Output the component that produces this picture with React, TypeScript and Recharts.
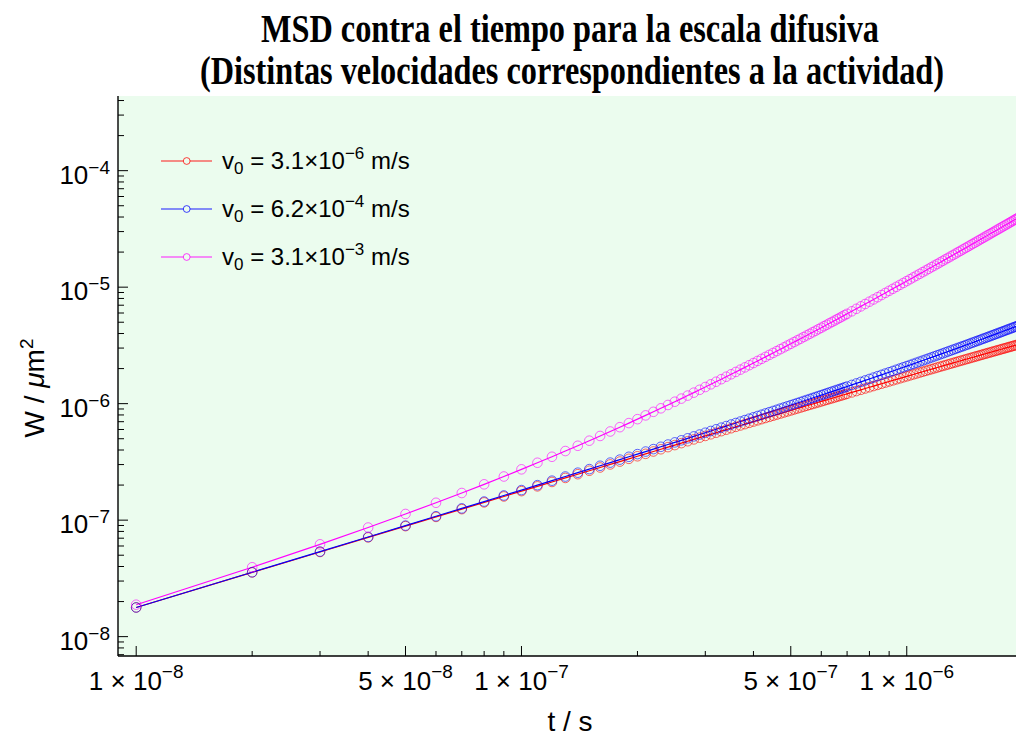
import React from "react";
import { LineChart, Line, XAxis, YAxis, CartesianGrid, Legend } from "recharts";

// time steps, in units of 1e-8 s
const tIndex = [
  1, 2, 3, 4, 5, 6, 7, 8, 9, 10, 11, 12, 13, 14, 15, 16, 17, 18, 19, 20,
  21, 22, 23, 24, 25, 26, 27, 28, 29, 30, 31, 32, 33, 34, 35, 36, 37, 38, 39, 40,
  41, 42, 43, 44, 45, 46, 47, 48, 49, 50, 51, 52, 53, 54, 55, 56, 57, 58, 59, 60,
  61, 62, 63, 64, 65, 66, 67, 68, 69, 70,
  72, 74, 76, 78, 80, 82, 84, 86, 88, 90, 92, 94, 96, 98, 100, 102, 104, 106, 108, 110,
  112, 114, 116, 118, 120, 122, 124, 126, 128, 130, 132, 134, 136, 138, 140, 142, 144, 146, 148, 150,
  152, 154, 156, 158, 160, 162, 164, 166, 168, 170, 172, 174, 176, 178, 180, 182, 184, 186, 188, 190,
  192, 194, 196, 198, 200,
];
const T_UNIT = 1e-8;

// MSD values, in units of 1e-8 um^2
const msdRed = [
  1.78, 3.56, 5.33, 7.11, 8.88, 10.66, 12.43, 14.2, 15.97, 17.74,
  19.5, 21.27, 23.03, 24.79, 26.55, 28.31, 30.07, 31.83, 33.59, 35.34,
  37.09, 38.85, 40.6, 42.35, 44.09, 45.84, 47.59, 49.33, 51.07, 52.82,
  54.56, 56.29, 58.03, 59.77, 61.5, 63.24, 64.97, 66.7, 68.43, 70.16,
  71.89, 73.61, 75.34, 77.06, 78.78, 80.5, 82.22, 83.94, 85.66, 87.38,
  89.09, 90.8, 92.51, 94.22, 95.93, 97.64, 99.35, 101.05, 102.76, 104.46,
  106.16, 107.86, 109.56, 111.26, 112.95, 114.65, 116.34, 118.03, 119.73, 121.42,
  124.8, 128.2, 131.5, 134.9, 138.2, 141.6, 144.9, 148.3, 151.6, 154.9,
  158.3, 161.6, 164.9, 168.2, 171.5, 174.8, 178.1, 181.4, 184.7, 187.9,
  191.2, 194.5, 197.7, 201.0, 204.2, 207.5, 210.7, 214.0, 217.2, 220.4,
  223.6, 226.9, 230.1, 233.3, 236.5, 239.7, 242.8, 246.0, 249.2, 252.4,
  255.5, 258.7, 261.9, 265.0, 268.2, 271.3, 274.4, 277.6, 280.7, 283.8,
  286.9, 290.0, 293.1, 296.2, 299.3, 302.4, 305.5, 308.6, 311.7, 314.7,
  317.8, 320.9, 323.9, 327.0, 330.0,
];
const msdBlue = [
  1.78, 3.57, 5.37, 7.17, 8.98, 10.8, 12.62, 14.44, 16.28, 18.12,
  19.97, 21.82, 23.68, 25.55, 27.42, 29.3, 31.18, 33.08, 34.98, 36.88,
  38.79, 40.71, 42.63, 44.56, 46.5, 48.44, 50.39, 52.35, 54.31, 56.28,
  58.26, 60.24, 62.22, 64.22, 66.22, 68.23, 70.24, 72.26, 74.29, 76.32,
  78.36, 80.4, 82.46, 84.52, 86.58, 88.65, 90.73, 92.81, 94.9, 97.0,
  99.1, 101.2, 103.3, 105.5, 107.6, 109.7, 111.9, 114.0, 116.2, 118.3,
  120.5, 122.7, 124.8, 127.0, 129.2, 131.4, 133.6, 135.8, 138.1, 140.3,
  144.8, 149.2, 153.8, 158.3, 162.9, 167.5, 172.1, 176.8, 181.4, 186.1,
  190.8, 195.6, 200.4, 205.2, 210.0, 214.9, 219.7, 224.6, 229.6, 234.5,
  239.5, 244.5, 249.5, 254.6, 259.7, 264.8, 269.9, 275.1, 280.3, 285.5,
  290.7, 296.0, 301.3, 306.6, 311.9, 317.3, 322.7, 328.1, 333.5, 339.0,
  344.5, 350.0, 355.6, 361.1, 366.7, 372.3, 378.0, 383.7, 389.4, 395.1,
  400.8, 406.6, 412.4, 418.2, 424.1, 430.0, 435.9, 441.8, 447.7, 453.7,
  459.7, 465.8, 471.8, 477.9, 484.0,
];
const msdMagenta = [
  1.88, 3.94, 6.2, 8.64, 11.3, 14.1, 17.1, 20.3, 23.7, 27.3,
  31.1, 35.0, 39.2, 43.5, 48.1, 52.8, 57.7, 62.8, 68.1, 73.6,
  79.3, 85.1, 91.2, 97.4, 103.9, 110.5, 117.3, 124.3, 131.5, 138.9,
  146.5, 154.2, 162.2, 170.3, 178.7, 187.2, 195.9, 204.8, 213.9, 223.2,
  232.7, 242.3, 252.2, 262.2, 272.5, 282.9, 293.5, 304.3, 315.3, 326.5,
  337.9, 349.4, 361.2, 373.1, 385.3, 397.6, 410.1, 422.8, 435.7, 448.8,
  462.1, 475.5, 489.2, 503.0, 517.1, 531.3, 545.7, 560.3, 575.1, 590.1,
  620.6, 651.9, 684.0, 716.8, 750.4, 784.7, 819.8, 855.7, 892.3, 929.7,
  967.8, 1006.7, 1046.4, 1086.8, 1128, 1169.9, 1212.6, 1256.1, 1300.3, 1345.3,
  1391.0, 1437.5, 1484.8, 1532.8, 1581.6, 1631.1, 1681.4, 1732.5, 1784.3, 1836.9,
  1890.2, 1944.3, 1999.2, 2054.8, 2111.2, 2168.3, 2226.2, 2284.9, 2344.3, 2404.5,
  2465.4, 2527.1, 2589.6, 2652.8, 2716.8, 2781.5, 2847.0, 2913.3, 2980.3, 3048.1,
  3116.6, 3185.9, 3256.0, 3326.8, 3398.4, 3470.7, 3543.8, 3617.7, 3692.3, 3767.7,
  3843.8, 3920.7, 3998.4, 4076.8, 4156.0,
];
const W_UNIT = 1e-8;

const seriesKeys = ["red", "blue", "magenta"];
const seriesColors = ["#ff0000", "#0000ff", "#ff00ff"];
const speedCoef = ["3.1", "6.2", "3.1"];
const speedExp = ["−6", "−4", "−3"];

const xTicks = [
  1e-8, 2e-8, 3e-8, 4e-8, 5e-8, 6e-8, 7e-8, 8e-8, 9e-8,
  1e-7, 2e-7, 3e-7, 4e-7, 5e-7, 6e-7, 7e-7, 8e-7, 9e-7,
  1e-6,
];
const xLabelled = [1e-8, 5e-8, 1e-7, 5e-7, 1e-6];
const yTicks = [
  7e-9, 8e-9, 9e-9,
  1e-8, 2e-8, 3e-8, 4e-8, 5e-8, 6e-8, 7e-8, 8e-8, 9e-8,
  1e-7, 2e-7, 3e-7, 4e-7, 5e-7, 6e-7, 7e-7, 8e-7, 9e-7,
  1e-6, 2e-6, 3e-6, 4e-6, 5e-6, 6e-6, 7e-6, 8e-6, 9e-6,
  1e-5, 2e-5, 3e-5, 4e-5, 5e-5, 6e-5, 7e-5, 8e-5, 9e-5,
  1e-4, 2e-4, 3e-4, 4e-4,
];

const X_DOMAIN = [8.97e-9, 1.921e-6];
const Y_DOMAIN = [6.82e-9, 4.375e-4];

const data = tIndex.map((n, i) => ({
  t: n * T_UNIT,
  red: msdRed[i] * W_UNIT,
  blue: msdBlue[i] * W_UNIT,
  magenta: msdMagenta[i] * W_UNIT,
}));

const SANS = '"Liberation Sans", Arial, Helvetica, sans-serif';
const SERIF = '"Liberation Serif", "Times New Roman", serif';

function splitPow(v: number) {
  const e = Math.floor(Math.log10(v) + 1e-9);
  const m = Math.round(v / Math.pow(10, e));
  return { m, e };
}

function isLabelled(v: number) {
  return xLabelled.some((l) => Math.abs(l - v) / l < 1e-6);
}

function XTick(props: any) {
  const { x, y, payload, side } = props;
  const v = payload.value;
  const { m, e } = splitPow(v);
  const major = isLabelled(v);
  const len = major ? 10 : 5;
  const dir = side === "top" ? 1 : -1;
  return (
    <g>
      <line x1={x} x2={x} y1={y} y2={y + dir * len} stroke="#000" strokeWidth={1} />
      {side !== "top" && major && (
        <text x={x} y={y + 34} textAnchor="middle" fontFamily={SANS} fontSize={26} fill="#000">
          {`${m} × 10`}
          <tspan dy={-12} fontSize={19}>{`−${-e}`}</tspan>
        </text>
      )}
    </g>
  );
}

function YTick(props: any) {
  const { x, y, payload } = props;
  const { m, e } = splitPow(payload.value);
  const major = m === 1;
  return (
    <g>
      <line x1={x} x2={x + (major ? 10 : 6)} y1={y} y2={y} stroke="#000" strokeWidth={1} />
      {major && (
        <text x={x - 8} y={y + 13} textAnchor="end" fontFamily={SANS} fontSize={26} fill="#000">
          10
          <tspan dy={-10} fontSize={19}>{`−${-e}`}</tspan>
        </text>
      )}
    </g>
  );
}

const makeDot = (color: string) => (p: any) => (
  <circle
    key={`${color}-${p.index}`}
    cx={p.cx}
    cy={p.cy}
    r={4.8}
    fill="none"
    stroke={color}
    strokeOpacity={0.6}
    strokeWidth={1}
  />
);

function LegendBox(props: any) {
  const items = [...(props.payload || [])].sort(
    (a: any, b: any) => seriesKeys.indexOf(a.dataKey) - seriesKeys.indexOf(b.dataKey)
  );
  return (
    <svg width={320} height={140} style={{ display: "block" }}>
      {items.map((it: any, i: number) => {
        const k = seriesKeys.indexOf(it.dataKey);
        const color = seriesColors[k];
        const cy = 21 + i * 48;
        return (
          <g key={it.dataKey}>
            <line x1={11} x2={62} y1={cy} y2={cy} stroke={color} strokeOpacity={0.6} strokeWidth={1.5} />
            <circle cx={36.7} cy={cy} r={3.4} fill="#ebfcee" stroke={color} strokeOpacity={0.75} strokeWidth={1} />
            <text x={72} y={cy + 8} fontFamily={SANS} fontSize={24} fill="#000">
              v
              <tspan dy={5} fontSize={17}>0</tspan>
              <tspan dy={-5}>{` = ${speedCoef[k]}×10`}</tspan>
              <tspan dy={-10} fontSize={17}>{speedExp[k]}</tspan>
              <tspan dy={10}>{" m/s"}</tspan>
            </text>
          </g>
        );
      })}
    </svg>
  );
}

export default function App() {
  return (
    <div style={{ position: "fixed", left: 0, top: 0, width: 1016, height: 736, overflow: "hidden", background: "#fff" }}>
      <LineChart width={1016} height={736} data={data} margin={{ top: 96, right: 0, bottom: 0, left: 0 }}>
        <CartesianGrid horizontal={false} vertical={false} fill="#ebfcee" fillOpacity={1} stroke="none" />
        <XAxis
          dataKey="t"
          type="number"
          scale="log"
          domain={X_DOMAIN}
          allowDataOverflow
          ticks={xTicks}
          interval={0}
          tickSize={0}
          tickMargin={0}
          tickLine={false}
          height={80}
          axisLine={{ stroke: "#000", strokeWidth: 1.4 }}
          tick={(p: any) => <XTick key={`xb-${p.index}`} {...p} side="bottom" />}
        />
        <XAxis
          xAxisId="top"
          orientation="top"
          dataKey="t"
          type="number"
          scale="log"
          domain={X_DOMAIN}
          allowDataOverflow
          ticks={xTicks}
          interval={0}
          tickSize={0}
          tickMargin={0}
          tickLine={false}
          height={0}
          axisLine={{ stroke: "#000", strokeWidth: 1.4 }}
          tick={(p: any) => <XTick key={`xt-${p.index}`} {...p} side="top" />}
        />
        <YAxis
          type="number"
          scale="log"
          domain={Y_DOMAIN}
          allowDataOverflow
          ticks={yTicks}
          interval={0}
          tickSize={0}
          tickMargin={0}
          tickLine={false}
          width={118}
          axisLine={{ stroke: "#000", strokeWidth: 1.4 }}
          tick={(p: any) => <YTick key={`y-${p.index}`} {...p} />}
        />
        {seriesKeys.map((k, i) => (
          <Line
            key={k}
            dataKey={k}
            name={`v0 = ${speedCoef[i]}×10^${speedExp[i]} m/s`}
            stroke={seriesColors[i]}
            strokeWidth={1.2}
            dot={makeDot(seriesColors[i])}
            activeDot={false}
            isAnimationActive={false}
          />
        ))}
        <Legend
          layout="vertical"
          align="center"
          verticalAlign="middle"
          content={LegendBox}
          wrapperStyle={{ left: 150, top: 140, width: 320, height: 140 }}
        />
        <text x={570} y={42} textAnchor="middle" fontFamily={SERIF} fontWeight="bold" fontSize={41}
          textLength={618} lengthAdjust="spacingAndGlyphs" fill="#000">
          MSD contra el tiempo para la escala difusiva
        </text>
        <text x={572} y={84} textAnchor="middle" fontFamily={SERIF} fontWeight="bold" fontSize={41}
          textLength={744} lengthAdjust="spacingAndGlyphs" fill="#000">
          (Distintas velocidades correspondientes a la actividad)
        </text>
        <text x={570} y={731} textAnchor="middle" fontFamily={SANS} fontSize={28} fill="#000">
          t / s
        </text>
        <text transform="translate(44, 388) rotate(-90)" textAnchor="middle" fontFamily={SANS} fontSize={28} fill="#000">
          W /{" "}
          <tspan fontStyle="italic">μ</tspan>
          m
          <tspan dy={-11} fontSize={19}>2</tspan>
        </text>
      </LineChart>
    </div>
  );
}
